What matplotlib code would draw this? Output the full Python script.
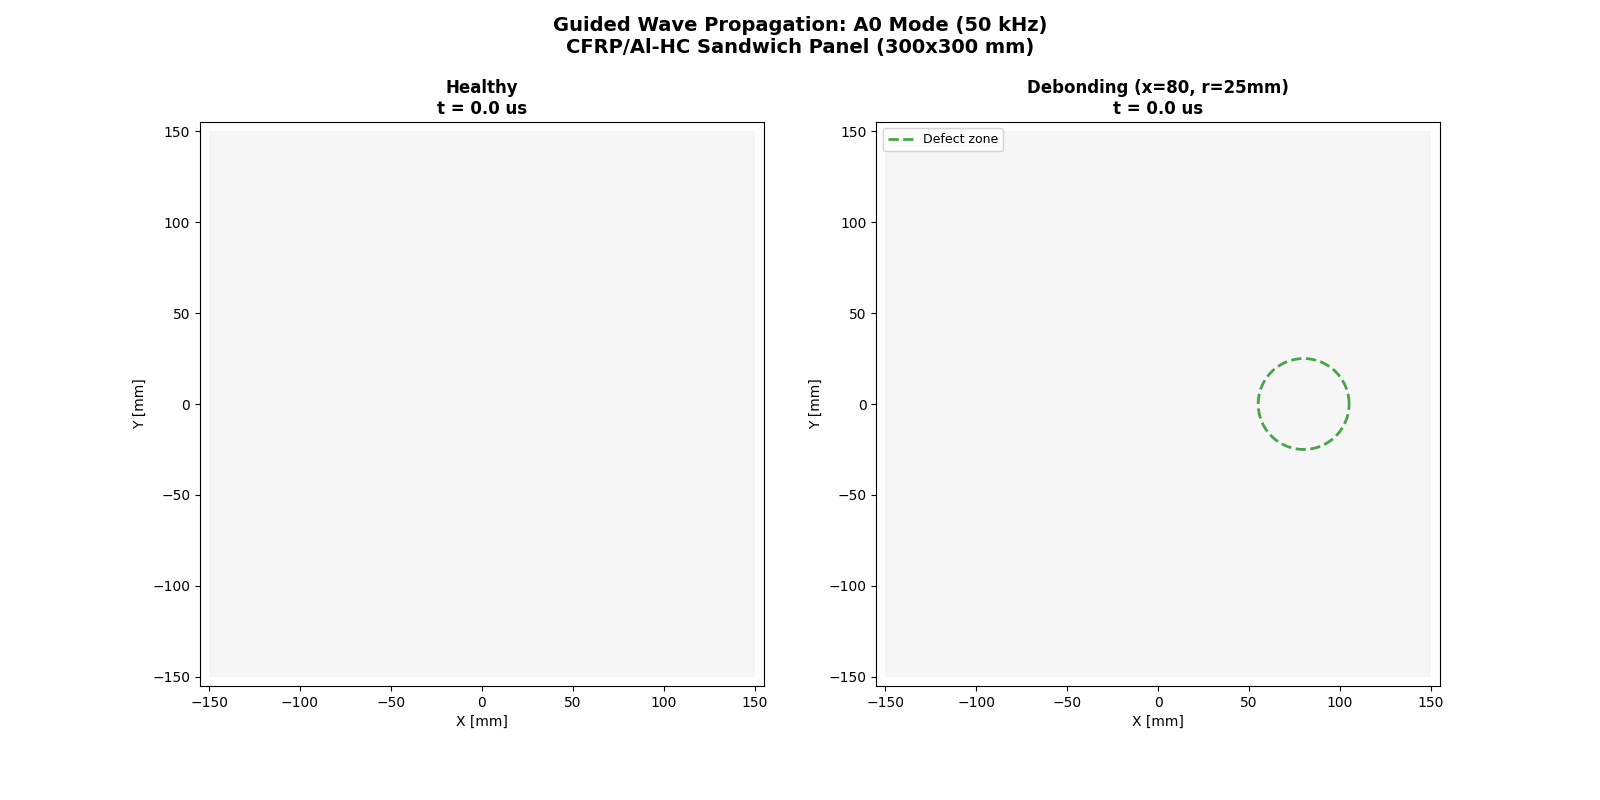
import numpy as np
import matplotlib
matplotlib.use("Agg")
import matplotlib.pyplot as plt

# Data
panel_size = 300.0          # mm
grid_n = 151
time_us = 0.0
defect_x, defect_y, defect_r = 80.0, 0.0, 25.0
titles = ["Healthy", "Debonding (x=80, r=25mm)"]

half = panel_size / 2
field = np.zeros((grid_n, grid_n))  # wavefield at t = 0 is zero everywhere

fig, axes = plt.subplots(1, 2, figsize=(16, 8), dpi=100)
fig.suptitle("Guided Wave Propagation: A0 Mode (50 kHz)\nCFRP/Al-HC Sandwich Panel (300x300 mm)",
             fontsize=14, fontweight="bold")

for i, (ax, title) in enumerate(zip(axes, titles)):
    ax.imshow(field, extent=[-half, half, -half, half], origin="lower",
              cmap="RdBu_r", vmin=-1, vmax=1, interpolation="nearest")
    ax.set_xlim(-155, 155)
    ax.set_ylim(-155, 155)
    ax.set_aspect("equal")
    ax.set_xlabel("X [mm]")
    ax.set_ylabel("Y [mm]")
    ax.set_title(f"{title}\nt = {time_us:.1f} us", fontsize=12, fontweight="bold")
    if i == 1:
        theta = np.linspace(0, 2 * np.pi, 200)
        ax.plot(defect_x + defect_r * np.cos(theta), defect_y + defect_r * np.sin(theta),
                color="green", linestyle="--", linewidth=2, alpha=0.7, label="Defect zone")
        ax.legend(loc="upper left", fontsize=9)

fig.savefig("out.png", dpi=100)
